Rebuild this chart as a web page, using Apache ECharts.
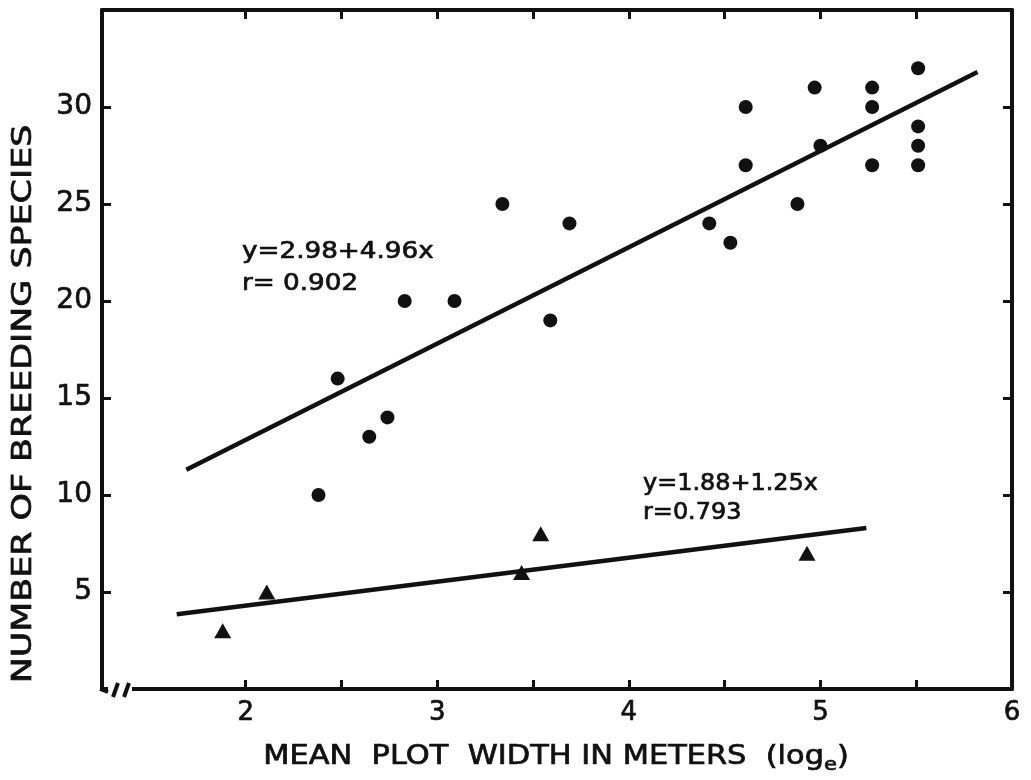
<!DOCTYPE html>
<html>
<head>
<meta charset="utf-8">
<script src="https://cdn.jsdelivr.net/npm/echarts@6/dist/echarts.min.js"></script>
<style>
html, body { margin: 0; padding: 0; background: #fff; }
#chart { width: 1031px; height: 780px; }
</style>
</head>
<body>
<div id="chart"></div>
<script>
// plots with breeding birds: circles
var circlePoints = [
    [2.38, 10], [2.48, 16], [2.645, 13], [2.74, 14], [2.83, 20], [3.09, 20],
    [3.34, 25], [3.59, 19], [3.69, 24], [4.42, 24], [4.53, 23], [4.61, 30],
    [4.61, 27], [4.88, 25], [4.97, 31], [5.0, 28], [5.27, 31], [5.27, 30],
    [5.27, 27], [5.51, 32], [5.51, 29], [5.51, 28], [5.51, 27]
];
// triangles
var trianglePoints = [
    [1.88, 3], [2.11, 5], [3.44, 6], [3.54, 8], [4.93, 7]
];
// fitted lines (end points)
var upperFit = [[1.69, 11.3], [5.82, 31.8]];
var lowerFit = [[1.64, 3.85], [5.24, 8.3]];

var xTicks = [2, 2.5, 3, 3.5, 4, 4.5, 5, 5.5];
var xLabels = [2, 3, 4, 5, 6];
var yTicks = [5, 10, 15, 20, 25, 30];

var ink = '#111';
var font = 'DejaVu Sans';

var chart = echarts.init(document.getElementById('chart'));

var axisLine = { show: true, onZero: false, lineStyle: { color: ink, width: 4 } };

chart.setOption({
    backgroundColor: '#fff',
    animation: false,
    grid: { left: 102, right: 19, top: 10, bottom: 91 },
    xAxis: [
        {
            type: 'value', min: 1.25, max: 6,
            axisLine: axisLine,
            axisTick: { show: true, inside: true, length: 9, customValues: xTicks, lineStyle: { color: ink, width: 3 } },
            axisLabel: {
                customValues: xLabels, color: ink, fontFamily: font, fontSize: 26, margin: 11,
                textBorderColor: ink, textBorderWidth: 0.7
            },
            splitLine: { show: false }
        },
        {
            type: 'value', min: 1.25, max: 6, position: 'top',
            axisLine: axisLine,
            axisTick: { show: true, inside: true, length: 9, customValues: xTicks, lineStyle: { color: ink, width: 3 } },
            axisLabel: { show: false },
            splitLine: { show: false }
        }
    ],
    yAxis: [
        {
            type: 'value', min: 0, max: 35,
            axisLine: axisLine,
            axisTick: { show: true, inside: true, length: 9, customValues: yTicks, lineStyle: { color: ink, width: 3 } },
            axisLabel: {
                customValues: yTicks, color: ink, fontFamily: font, fontSize: 28, margin: 10,
                textBorderColor: ink, textBorderWidth: 0.7
            },
            splitLine: { show: false }
        },
        {
            type: 'value', min: 0, max: 35, position: 'right',
            axisLine: axisLine,
            axisTick: { show: true, inside: true, length: 9, customValues: yTicks, lineStyle: { color: ink, width: 3 } },
            axisLabel: { show: false },
            splitLine: { show: false }
        }
    ],
    series: [
        {
            type: 'line', data: upperFit, showSymbol: false, z: 2,
            lineStyle: { color: ink, width: 4.5 }
        },
        {
            type: 'line', data: lowerFit, showSymbol: false, z: 2,
            lineStyle: { color: ink, width: 4.5 }
        },
        {
            type: 'scatter', data: circlePoints, symbol: 'circle', symbolSize: 14, z: 3,
            itemStyle: { color: ink, opacity: 1 }
        },
        {
            type: 'scatter', data: trianglePoints, symbol: 'triangle', symbolSize: [17, 15], z: 3,
            itemStyle: { color: ink, opacity: 1 }
        }
    ],
    graphic: [
        {
            type: 'text', x: 24, y: 404, rotation: Math.PI / 2, scaleX: 1.34,
            style: {
                text: 'NUMBER OF BREEDING SPECIES', fill: ink, font: '26px "DejaVu Sans"',
                align: 'center', verticalAlign: 'middle', stroke: ink, lineWidth: 0.7
            }
        },
        {
            type: 'text', x: 556, y: 757, scaleX: 1.17,
            style: {
                text: 'MEAN  PLOT  WIDTH IN METERS  (log{sub|e})', fill: ink, font: '26px "DejaVu Sans"',
                align: 'center', verticalAlign: 'middle', stroke: ink, lineWidth: 0.7,
                rich: { sub: { fill: ink, font: '18px "DejaVu Sans"', padding: [16, 0, 0, 0] } }
            }
        },
        {
            type: 'text', x: 242, y: 236, scaleX: 1.14,
            style: {
                text: 'y=2.98+4.96x\nr= 0.902', fill: ink, font: '23px "DejaVu Sans"', lineHeight: 32,
                stroke: ink, lineWidth: 0.7
            }
        },
        {
            type: 'text', x: 643, y: 470, scaleX: 1.04,
            style: {
                text: 'y=1.88+1.25x\nr=0.793', fill: ink, font: '23px "DejaVu Sans"', lineHeight: 29,
                stroke: ink, lineWidth: 0.7
            }
        },
        // axis break on the x axis
        { type: 'rect', shape: { x: 108, y: 683, width: 24, height: 12 }, style: { fill: '#fff' }, z: 100 },
        { type: 'line', shape: { x1: 100, y1: 689, x2: 108, y2: 692 }, style: { stroke: ink, lineWidth: 4 }, z: 101 },
        { type: 'line', shape: { x1: 113, y1: 697, x2: 118, y2: 683 }, style: { stroke: ink, lineWidth: 4 }, z: 101 },
        { type: 'line', shape: { x1: 124, y1: 697, x2: 129, y2: 683 }, style: { stroke: ink, lineWidth: 4 }, z: 101 }
    ]
});
</script>
</body>
</html>
